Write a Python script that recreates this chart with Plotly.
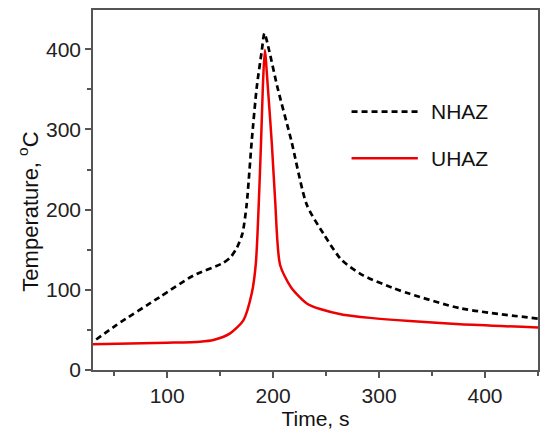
import plotly.graph_objects as go

# NHAZ (black dashed)
nhaz_t = [33, 52, 93, 125, 152, 160, 166, 171, 175, 179.9, 184.6, 189.3, 191.8, 196.5, 204, 217, 231.8, 247.5, 264.8, 285, 313.6, 329, 376.5, 451]
nhaz_T = [38, 56, 91, 118, 133, 141, 153, 170, 206, 287, 353, 398, 420, 397, 353, 287, 206, 170, 137, 118, 102, 95, 77, 64]

# UHAZ (red solid)
uhaz_t = [30, 100, 131, 143.6, 159.4, 171.9, 179.9, 183.7, 188.5, 190.3, 192.2, 195, 198.9, 201.9, 206.6, 217, 231.8, 244.4, 266, 291.6, 329, 376.5, 451]
uhaz_T = [32, 34, 35.3, 37.4, 45.7, 62, 96, 133, 280, 353, 399, 353, 280, 212, 131, 103, 83, 76, 69, 65, 61, 57, 53]

x_ticks = [100, 200, 300, 400]
y_ticks = [0, 100, 200, 300, 400]
series_names = ["NHAZ", "UHAZ"]

FONT = "Liberation Sans, Arial, sans-serif"

fig = go.Figure()
fig.add_trace(go.Scatter(x=nhaz_t, y=nhaz_T, mode="lines", name=series_names[0], showlegend=False,
                         line=dict(color="black", width=2.7, dash="6px,4px", shape="spline", smoothing=0.7)))
fig.add_trace(go.Scatter(x=uhaz_t, y=uhaz_T, mode="lines", name=series_names[1], showlegend=False,
                         line=dict(color="#ee0000", width=2.5, shape="spline", smoothing=0.7)))

axis_common = dict(showline=True, linecolor="#555", linewidth=1.5, mirror=True,
                   ticks="outside", ticklen=6, tickwidth=1.5, tickcolor="#555",
                   showgrid=False, zeroline=False,
                   tickfont=dict(family=FONT, size=21, color="#222"))
minor = dict(ticks="outside", ticklen=4, tickwidth=1.5, tickcolor="#555", dtick=50, tick0=0)

fig.update_xaxes(range=[30, 450], tickvals=x_ticks, minor=minor,
                 title=dict(text="Time, s", font=dict(family=FONT, size=21, color="#111"), standoff=0),
                 **axis_common)
fig.update_yaxes(range=[0, 449], tickvals=y_ticks, minor=minor, **axis_common)

# y-axis title (placed slightly below centre, as in the original)
fig.add_annotation(xref="paper", yref="paper", x=-0.146, y=0.44, text="Temperature, <sup>o</sup>C",
                   textangle=-90, showarrow=False, xanchor="center", yanchor="middle",
                   font=dict(family=FONT, size=22, color="#111"))

# legend drawn as line samples + labels (paper coordinates)
legend_rows = [(0.7175, dict(color="black", width=2.7, dash="6px,4px")),
               (0.588, dict(color="#ee0000", width=2.5))]
for (yy, ln), name in zip(legend_rows, series_names):
    fig.add_shape(type="line", xref="paper", yref="paper", x0=0.581, x1=0.730, y0=yy, y1=yy, line=ln)
    fig.add_annotation(xref="paper", yref="paper", x=0.755, y=yy, text=name, showarrow=False,
                       xanchor="left", yanchor="middle",
                       font=dict(family=FONT, size=21, color="#111"))

fig.update_layout(
    width=540, height=434,
    margin=dict(l=93, r=2, t=10, b=64, autoexpand=False),
    plot_bgcolor="white", paper_bgcolor="white",
    showlegend=False,
)

fig.write_html("out.html", config={"displayModeBar": False},
               post_script="document.body.style.margin='0';document.body.style.overflow='hidden';")
